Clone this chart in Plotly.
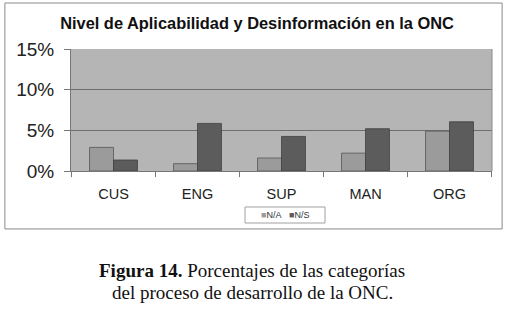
import plotly.graph_objects as go

categories = ["CUS", "ENG", "SUP", "MAN", "ORG"]
na_values = [2.9, 0.9, 1.6, 2.2, 4.9]
ns_values = [1.35, 5.85, 4.25, 5.2, 6.05]
y_ticks = [0, 5, 10, 15]
y_tick_labels = ["0%", "5%", "10%", "15%"]
series_names = ["N/A", "N/S"]
series_colors = ["#9b9b9b", "#5c5c5c"]

fig = go.Figure()
fig.add_trace(go.Bar(x=categories, y=na_values, name=series_names[0], showlegend=False,
                     marker=dict(color=series_colors[0], line=dict(color="#555555", width=0.8))))
fig.add_trace(go.Bar(x=categories, y=ns_values, name=series_names[1], showlegend=False,
                     marker=dict(color=series_colors[1], line=dict(color="#404040", width=0.8))))

fig.update_layout(
    width=509, height=316,
    margin=dict(l=71, r=17, t=49, b=145),
    paper_bgcolor="white",
    plot_bgcolor="#b5b5b5",
    barmode="group", bargap=0.43, bargroupgap=0,
    font=dict(family="Liberation Sans, Arial", color="#222222"),
    title=dict(text="<b>Nivel de Aplicabilidad y Desinformación en la ONC</b>",
               x=0.505, xanchor="center", y=0.927, yanchor="middle",
               font=dict(size=16.4, color="#111111")),
    xaxis=dict(showgrid=False, showline=True, linecolor="#777777", linewidth=1,
               mirror=False, ticks="", ticklabelstandoff=10, tickfont=dict(size=14.5)),
    yaxis=dict(range=[0, 15], tickvals=y_ticks, ticktext=y_tick_labels,
               showgrid=True, gridcolor="#6e6e6e", gridwidth=1,
               showline=True, linecolor="#777777", linewidth=1,
               ticks="outside", ticklen=6, tickcolor="#777777",
               ticklabelstandoff=6,
               tickfont=dict(size=19), zeroline=False),
)

# category separator ticks on x axis
for i in range(len(categories) + 1):
    fig.add_shape(type="line", xref="x", yref="paper", x0=i - 0.5, x1=i - 0.5,
                  y0=0, y1=-0.05, line=dict(color="#777777", width=1))

# plot-area right border
fig.add_shape(type="line", xref="paper", yref="paper", x0=1, x1=1, y0=0, y1=1,
              line=dict(color="#8a8a8a", width=1))

# outer chart border
fig.add_shape(type="rect", xref="paper", yref="paper",
              x0=-0.157, x1=1.024, y0=-0.475, y1=1.377,
              line=dict(color="#8a8a8a", width=1))

# compact legend
fig.add_shape(type="rect", xref="paper", yref="paper",
              x0=(245 - 71) / 421, x1=(325 - 71) / 421,
              y0=(171 - 223) / 122, y1=(171 - 207) / 122,
              line=dict(color="#a0a0a0", width=1), fillcolor="white")
legend_text = "&nbsp;&nbsp;&nbsp;".join(
    f"<span style='color:{c}'>■</span>{n}" for n, c in zip(series_names, series_colors))
fig.add_annotation(xref="paper", yref="paper", x=(285 - 71) / 421, y=(171 - 215) / 122,
                   text=legend_text, showarrow=False, xanchor="center", yanchor="middle",
                   font=dict(size=9, color="#333333"))

# caption
fig.add_annotation(xref="paper", yref="paper", x=0.43, y=-0.815,
                   text="<b>Figura 14.</b> Porcentajes de las categorías",
                   showarrow=False, xanchor="center", yanchor="middle",
                   font=dict(family="Liberation Serif, Times New Roman", size=19, color="#111111"))
fig.add_annotation(xref="paper", yref="paper", x=0.43, y=-0.998,
                   text="del proceso de desarrollo de la ONC.",
                   showarrow=False, xanchor="center", yanchor="middle",
                   font=dict(family="Liberation Serif, Times New Roman", size=19, color="#111111"))

fig.write_html("out.html", config={"displayModeBar": False},
               post_script="document.body.style.margin='0px';")
